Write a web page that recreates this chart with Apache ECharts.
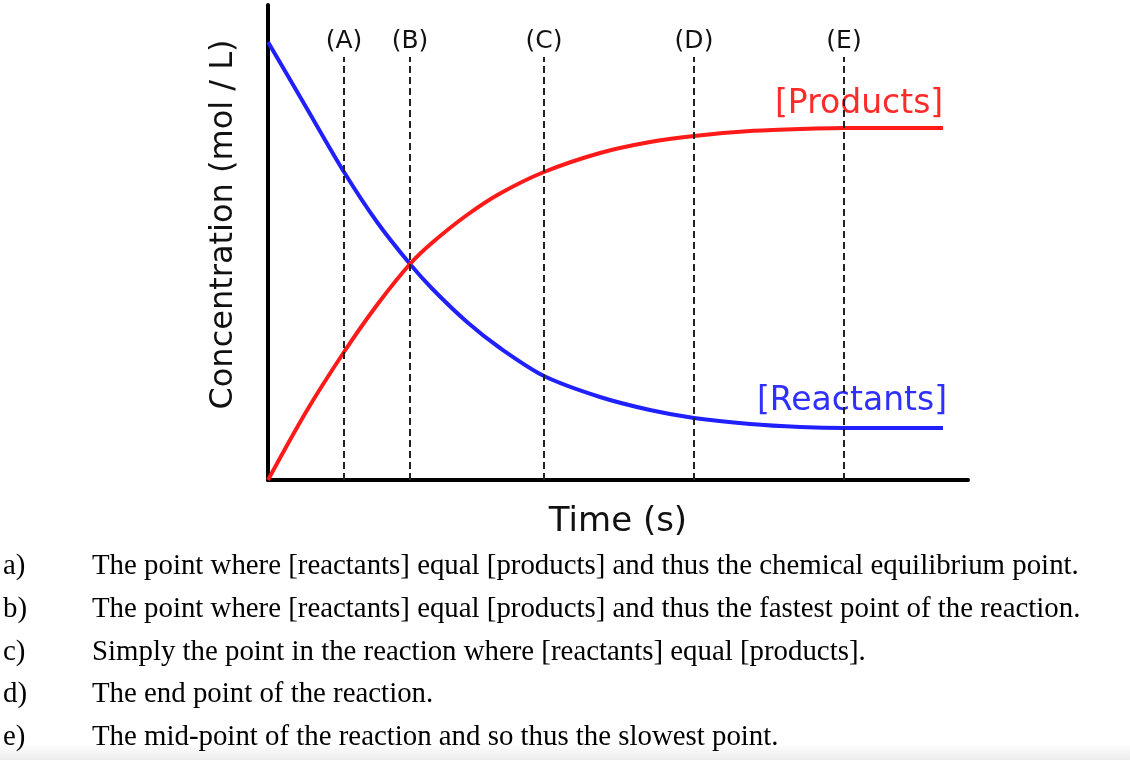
<!DOCTYPE html>
<html lang="en">
<head>
    <meta charset="UTF-8">
    <title>Reaction progress</title>
    <style>
        body { margin: 0; background: #fff; }
        #main { width: 1130px; height: 760px; }
    </style>
</head>
<body>
    <div id="main"></div>
    <script src="https://cdn.jsdelivr.net/npm/echarts@6/dist/echarts.min.js"></script>
    <script>
        // values (time and concentration in arbitrary units)
        var time = [0, 3.8, 7.6, 10.9, 14.2, 16.5, 19.9, 23.2, 27.6, 33.2, 38.2, 42.6, 48.2, 53.2, 57.6, 67.5];
        var reactants = [87.6, 74.6, 61.6, 51.6, 43.2, 38.1, 31.6, 26.4, 20.8, 16.6, 14.0, 12.4, 11.2, 10.6, 10.4, 10.4];
        var products = [0, 13.6, 25.6, 35, 43.2, 47.6, 53.0, 57.3, 61.6, 65.4, 67.6, 68.8, 69.8, 70.2, 70.4, 70.4];
        var markNames = ['(A)', '(B)', '(C)', '(D)', '(E)'];
        var markTimes = [7.6, 14.2, 27.6, 42.6, 57.6];
        var markTop = 84.6;
        var answers = [
            ['a)', 'The point where [reactants] equal [products] and thus the chemical equilibrium point.'],
            ['b)', 'The point where [reactants] equal [products] and thus the fastest point of the reaction.'],
            ['c)', 'Simply the point in the reaction where [reactants] equal [products].'],
            ['d)', 'The end point of the reaction.'],
            ['e)', 'The mid-point of the reaction and so thus the slowest point.']
        ];

        var sans = 'DejaVu Sans';
        var myChart = echarts.init(document.getElementById('main'));

        function pairs(ys) {
            var out = [];
            for (var i = 0; i < time.length; i++) out.push([time[i], ys[i]]);
            return out;
        }

        var lines = [];
        for (var i = 0; i < markTimes.length; i++) {
            lines.push([
                { coord: [markTimes[i], 0] },
                { coord: [markTimes[i], markTop], name: markNames[i] }
            ]);
        }

        var graphics = [
            // faint grey band at the very bottom of the screenshot
            { type: 'rect', left: 0, top: 744, shape: { width: 1130, height: 16 }, silent: true,
              style: { fill: new echarts.graphic.LinearGradient(0, 0, 0, 1, [{ offset: 0, color: 'rgba(235,235,235,0)' }, { offset: 1, color: '#ececec' }]) } },
            { type: 'text', left: 775, top: 88, style: { text: '[Products]', fill: '#ff2b2b', font: '33px "' + sans + '"' } },
            { type: 'text', left: 757, top: 385, style: { text: '[Reactants]', fill: '#2f2fff', font: '33px "' + sans + '"' } }
        ];
        for (var j = 0; j < answers.length; j++) {
            var y = 552 + j * 42.75;
            graphics.push({ type: 'text', left: 3, top: y, style: { text: answers[j][0], fill: '#000', font: '28.85px "Liberation Serif"' } });
            graphics.push({ type: 'text', left: 92, top: y, style: { text: answers[j][1], fill: '#000', font: '28.85px "Liberation Serif"' } });
        }

        var option = {
            animation: false,
            grid: { left: 268, right: 162, top: 5, bottom: 280 },
            xAxis: {
                type: 'value', min: 0, max: 70,
                name: 'Time (s)', nameLocation: 'middle', nameGap: 25,
                nameTextStyle: { fontFamily: sans, fontSize: 34, color: '#111' },
                axisLine: { lineStyle: { color: '#000', width: 4 } },
                axisTick: { show: false }, axisLabel: { show: false }, splitLine: { show: false }
            },
            yAxis: {
                type: 'value', min: 0, max: 95,
                name: 'Concentration (mol / L)', nameLocation: 'middle', nameGap: 28, nameRotate: 90,
                nameTextStyle: { fontFamily: sans, fontSize: 32, color: '#111', padding: [0, 0, 0, 36] },
                axisLine: { show: true, lineStyle: { color: '#000', width: 4 } },
                axisTick: { show: false }, axisLabel: { show: false }, splitLine: { show: false }
            },
            series: [
                {
                    type: 'line', name: 'Reactants', data: pairs(reactants), smooth: 0.3, symbol: 'none',
                    lineStyle: { color: '#2020ff', width: 4 }, z: 3,
                    markLine: {
                        silent: true, symbol: 'none',
                        lineStyle: { color: '#222', width: 2, type: [7, 4] },
                        label: { show: true, position: 'end', formatter: '{b}', fontFamily: sans, fontSize: 25, color: '#111', distance: 3 },
                        data: lines
                    }
                },
                {
                    type: 'line', name: 'Products', data: pairs(products), smooth: 0.3, symbol: 'none',
                    lineStyle: { color: '#ff1a1a', width: 4 }, z: 3
                }
            ],
            graphic: graphics
        };
        myChart.setOption(option);
    </script>
</body>
</html>
